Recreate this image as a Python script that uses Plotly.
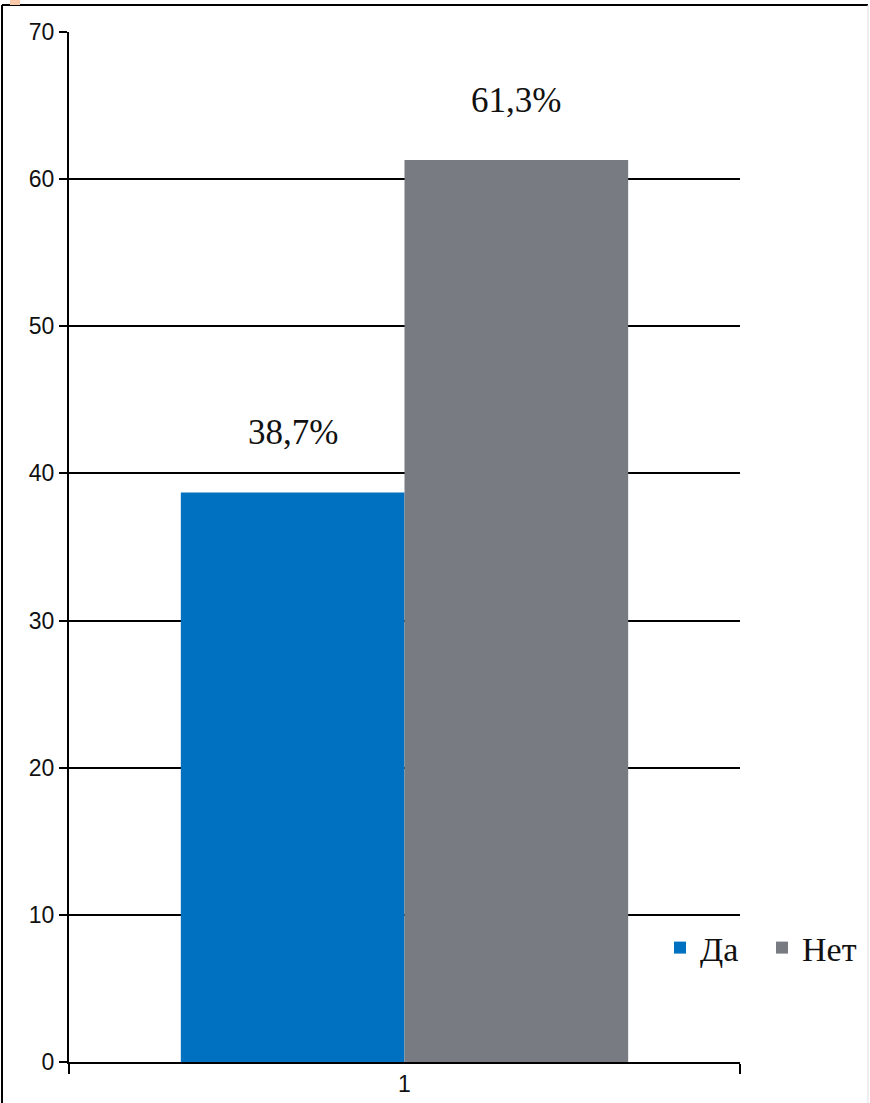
import plotly.graph_objects as go

categories = ["1"]
series_names = ["Да", "Нет"]
series_values = [[38.7], [61.3]]
value_labels = ["38,7%", "61,3%"]
colors = ["#0070C0", "#797B82"]

y_ticks = [0, 10, 20, 30, 40, 50, 60, 70]

SERIF = "Liberation Serif, Times New Roman, serif"
SANS = "Liberation Sans, Arial, sans-serif"

fig = go.Figure()
for name, vals, col in zip(series_names, series_values, colors):
    fig.add_trace(go.Bar(x=categories, y=vals, name=name, marker=dict(color=col, line=dict(width=0))))

bargap = 1 / 3
n = len(series_names)
bar_w = (1 - bargap) / n
annotations = []
for i, (vals, lab) in enumerate(zip(series_values, value_labels)):
    xpos = 0 - (1 - bargap) / 2 + bar_w * (i + 0.5)
    annotations.append(dict(x=xpos, y=vals[0], xref="x", yref="y", text=lab, showarrow=False,
                            yshift=60, font=dict(family=SERIF, size=35, color="#111111")))

fig.update_layout(
    width=870, height=1103,
    margin=dict(l=69, r=130, t=32, b=41, autoexpand=False),
    paper_bgcolor="white", plot_bgcolor="white",
    barmode="group", bargap=bargap, bargroupgap=0,
    showlegend=True,
    legend=dict(orientation="h", x=(660 - 69) / 671, y=(1062 - 948) / 1030, xanchor="left", yanchor="middle",
                font=dict(family=SERIF, size=34, color="#111111"),
                bgcolor="rgba(0,0,0,0)", itemwidth=30, tracegroupgap=0,
                entrywidth=57, entrywidthmode="pixels"),
    annotations=annotations,
    xaxis=dict(showline=True, linecolor="black", linewidth=2, ticks="outside", tickson="boundaries",
               ticklen=10, tickwidth=2, tickcolor="black", showgrid=False,
               tickfont=dict(family=SANS, size=23, color="#111111")),
    yaxis=dict(range=[0, 70], tickvals=y_ticks, showline=True, linecolor="black", linewidth=2,
               ticks="outside", ticklen=8, tickwidth=2, tickcolor="black",
               showgrid=True, gridcolor="black", gridwidth=2, zeroline=False,
               tickfont=dict(family=SANS, size=23, color="#111111")),
    shapes=[
        dict(type="line", xref="paper", yref="paper", x0=(2 - 69) / 671, x1=(2 - 69) / 671,
             y0=-0.05, y1=(1062 - 5) / 1030, line=dict(color="black", width=2)),
        dict(type="line", xref="paper", yref="paper", x0=(2 - 69) / 671, x1=(868 - 69) / 671,
             y0=(1062 - 5) / 1030, y1=(1062 - 5) / 1030, line=dict(color="black", width=2)),
        dict(type="line", xref="paper", yref="paper", x0=(868 - 69) / 671, x1=(868 - 69) / 671,
             y0=-0.05, y1=(1062 - 5) / 1030, line=dict(color="#dddddd", width=1)),
        dict(type="rect", xref="paper", yref="paper", x0=(10 - 69) / 671, x1=(20 - 69) / 671,
             y0=(1062 - 5) / 1030, y1=(1062 - 0) / 1030, fillcolor="#F8C8A8", line=dict(width=0)),
    ],
)

fig.write_html("out.html")
